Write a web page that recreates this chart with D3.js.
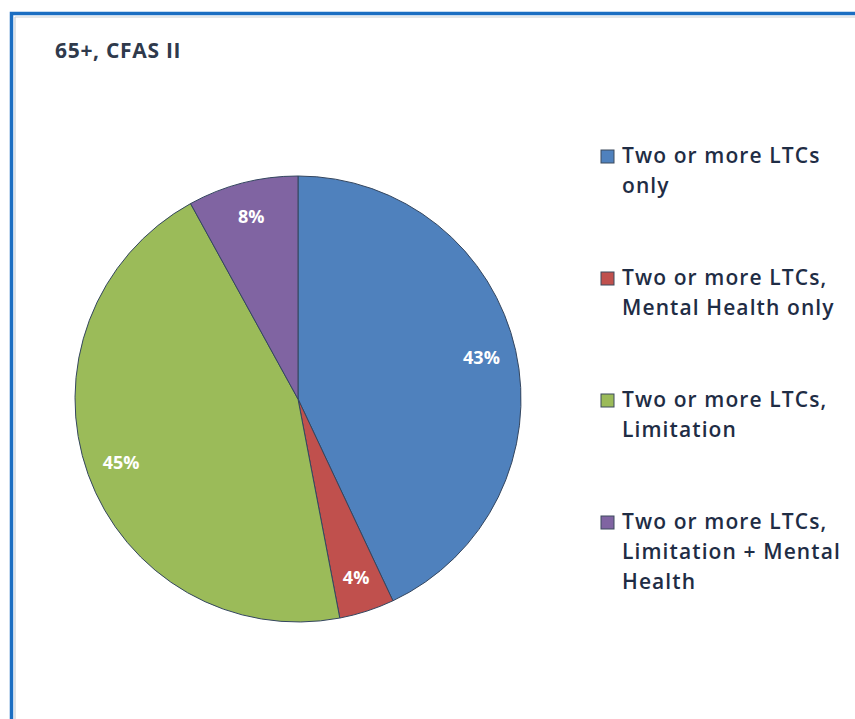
<!DOCTYPE html>
<html>
<head>
<meta charset="utf-8">
<script src="https://cdn.jsdelivr.net/npm/d3@7"></script>
<style>
  body { margin: 0; background: #fff; }
  svg { display: block; }
</style>
</head>
<body>
<div class="board"></div>
<script>
// pie data, clockwise from 12 o'clock
var categories = [
  'Two or more LTCs only',
  'Two or more LTCs, Mental Health only',
  'Two or more LTCs, Limitation',
  'Two or more LTCs, Limitation + Mental Health'
];
var legendLines = [
  ['Two or more LTCs', 'only'],
  ['Two or more LTCs,', 'Mental Health only'],
  ['Two or more LTCs,', 'Limitation'],
  ['Two or more LTCs,', 'Limitation + Mental', 'Health']
];
var values = [43, 4, 45, 8];
var colors = ['#4f81bd', '#c0504d', '#9bbb59', '#8064a2'];
var title = '65+, CFAS II';

var opts = {
  width: 855,
  height: 719,
  cx: 298,
  cy: 399,
  r: 223,
  labelR: 188
};

var svg = d3.select('.board')
  .append('svg')
  .attr('width', opts.width)
  .attr('height', opts.height);

// frame (only top + left edges visible in the crop)
svg.append('rect')
  .attr('x', 11.5).attr('y', 13.5)
  .attr('width', 900).attr('height', 800)
  .attr('fill', 'none')
  .attr('stroke', '#1b6ec2')
  .attr('stroke-width', 3.5);
svg.append('path')
  .attr('d', 'M15,17H855M15,17V719')
  .attr('stroke', '#c9cfd6')
  .attr('stroke-width', 1.2)
  .attr('fill', 'none');

svg.append('text')
  .attr('x', 55).attr('y', 58)
  .attr('font-family', 'Open Sans, sans-serif')
  .attr('font-weight', 700)
  .attr('font-size', 21)
  .attr('letter-spacing', 0.7)
  .attr('fill', '#2f3a4c')
  .text(title);

var pie = d3.pie().sort(null).value(function(d) { return d; });
var arcs = pie(values);
var arc = d3.arc().innerRadius(0).outerRadius(opts.r);
var labelArc = d3.arc().innerRadius(opts.labelR).outerRadius(opts.labelR);

var g = svg.append('g')
  .attr('transform', 'translate(' + opts.cx + ',' + opts.cy + ')');

g.selectAll('path.slice')
  .data(arcs)
  .enter().append('path')
  .attr('class', 'slice')
  .attr('d', arc)
  .attr('fill', function(d, i) { return colors[i]; })
  .attr('stroke', '#34465f')
  .attr('stroke-width', 1);

g.selectAll('text.lbl')
  .data(arcs)
  .enter().append('text')
  .attr('class', 'lbl')
  .attr('transform', function(d) { return 'translate(' + labelArc.centroid(d) + ')'; })
  .attr('text-anchor', 'middle')
  .attr('dy', '0.35em')
  .attr('font-family', 'Open Sans, sans-serif')
  .attr('font-weight', 700)
  .attr('font-size', 18)
  .attr('fill', '#fff')
  .text(function(d) { return d.data + '%'; });

// legend
var legend = svg.append('g');
var item = legend.selectAll('g.item')
  .data(legendLines)
  .enter().append('g')
  .attr('class', 'item')
  .attr('transform', function(d, i) { return 'translate(601,' + (150 + i * 122) + ')'; });

item.append('rect')
  .attr('width', 13).attr('height', 13)
  .attr('fill', function(d, i) { return colors[i]; })
  .attr('stroke', '#3d4a5c')
  .attr('stroke-width', 1);

item.append('text')
  .attr('font-family', 'Open Sans, sans-serif')
  .attr('font-weight', 600)
  .attr('font-size', 21)
  .attr('letter-spacing', 1.1)
  .attr('fill', '#1f2d45')
  .selectAll('tspan')
  .data(function(d) { return d; })
  .enter().append('tspan')
  .attr('x', 21)
  .attr('y', function(d, j) { return 13 + j * 30; })
  .text(function(d) { return d; });
</script>
</body>
</html>
